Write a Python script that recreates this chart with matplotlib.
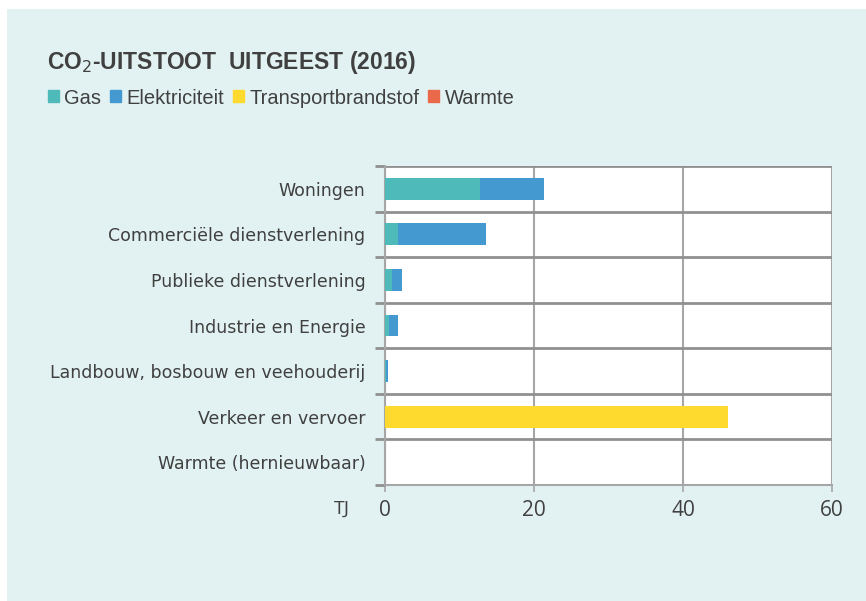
import matplotlib
matplotlib.use("Agg")
import matplotlib.pyplot as plt
from matplotlib.patches import Rectangle
import numpy as np

categories = ["Woningen", "Commerciële dienstverlening", "Publieke dienstverlening",
              "Industrie en Energie", "Landbouw, bosbouw en veehouderij",
              "Verkeer en vervoer", "Warmte (hernieuwbaar)"]
series_names = ["Gas", "Elektriciteit", "Transportbrandstof", "Warmte"]
gas = [12.8, 1.8, 1.0, 0.5, 0.1, 0.0, 0.0]
elektriciteit = [8.6, 11.8, 1.3, 1.3, 0.3, 0.0, 0.0]
transportbrandstof = [0.0, 0.0, 0.0, 0.0, 0.0, 46.1, 0.0]
warmte = [0.0, 0.0, 0.0, 0.0, 0.0, 0.0, 0.0]
x_ticks = [0, 20, 40, 60]

colors = ["#4FBABA", "#4399D0", "#FFDA2E", "#E9694A"]
text_color = "#404040"
W, H = 866, 601

fig = plt.figure(figsize=(W / 100, H / 100), dpi=100)
fig.patch.set_facecolor("white")
fig.patches.append(Rectangle((7 / W, 0), 1 - 7 / W, 1 - 9 / H, transform=fig.transFigure,
                             facecolor="#E2F2F2", edgecolor="none", zorder=-10))

left, right, top, bottom = 385, 832, 166, 485
ax = fig.add_axes([left / W, 1 - bottom / H, (right - left) / W, (bottom - top) / H])
ax.set_zorder(5)
ax.set_facecolor("white")

y = np.arange(len(categories))
bh = 0.48
cum = np.zeros(len(categories))
for name, vals, c in zip(series_names, [gas, elektriciteit, transportbrandstof, warmte], colors):
    ax.barh(y, vals, left=cum, height=bh, color=c, label=name, zorder=3)
    cum = cum + np.array(vals)

ax.set_xlim(0, 60)
ax.set_ylim(len(categories) - 0.5, -0.5)
ax.set_xticks(x_ticks)
ax.set_xticklabels([str(t) for t in x_ticks], fontsize=15, color=text_color, family="Open Sans")
ax.tick_params(axis="x", length=5, width=1.2, color="#A6A6A6", pad=6)

ax.set_yticks(y)
ax.set_yticklabels(categories, fontsize=12.5, color=text_color, family="DejaVu Sans")
ax.tick_params(axis="y", which="major", length=0, pad=14)
ax.set_yticks(np.arange(-0.5, len(categories)), minor=True)
ax.tick_params(axis="y", which="minor", length=7, width=2, color="#909090", direction="out")
ax.grid(axis="y", which="minor", color="#909090", linewidth=2, zorder=1)
ax.grid(axis="x", which="major", color="#A6A6A6", linewidth=1.5, zorder=1)

for s in ["top", "right"]:
    ax.spines[s].set_visible(False)
ax.spines["left"].set_color("#A6A6A6")
ax.spines["left"].set_linewidth(1.5)
ax.spines["bottom"].set_color("#A6A6A6")
ax.spines["bottom"].set_linewidth(1.5)
ax.set_axisbelow(True)

fig.text(342 / W, 1 - 509 / H, "TJ", fontsize=14, color=text_color, family="Open Sans",
         ha="center", va="center")

fig.text(47 / W, 1 - 62 / H, "CO$_2$-UITSTOOT  UITGEEST (2016)", fontsize=16.5, fontweight="bold",
         color=text_color, family="Liberation Sans", va="center", ha="left")

handles = [Rectangle((0, 0), 1, 1, color=c) for c in colors]
fig.legend(handles, series_names, loc="center left", bbox_to_anchor=(40 / W, 1 - 98 / H),
           ncol=4, frameon=False, handlelength=0.55, handleheight=0.55, handletextpad=0.25,
           columnspacing=0.45, prop={"family": "Liberation Sans", "size": 14.5},
           labelcolor=text_color, borderaxespad=0)

fig.savefig("out.png", dpi=100)
